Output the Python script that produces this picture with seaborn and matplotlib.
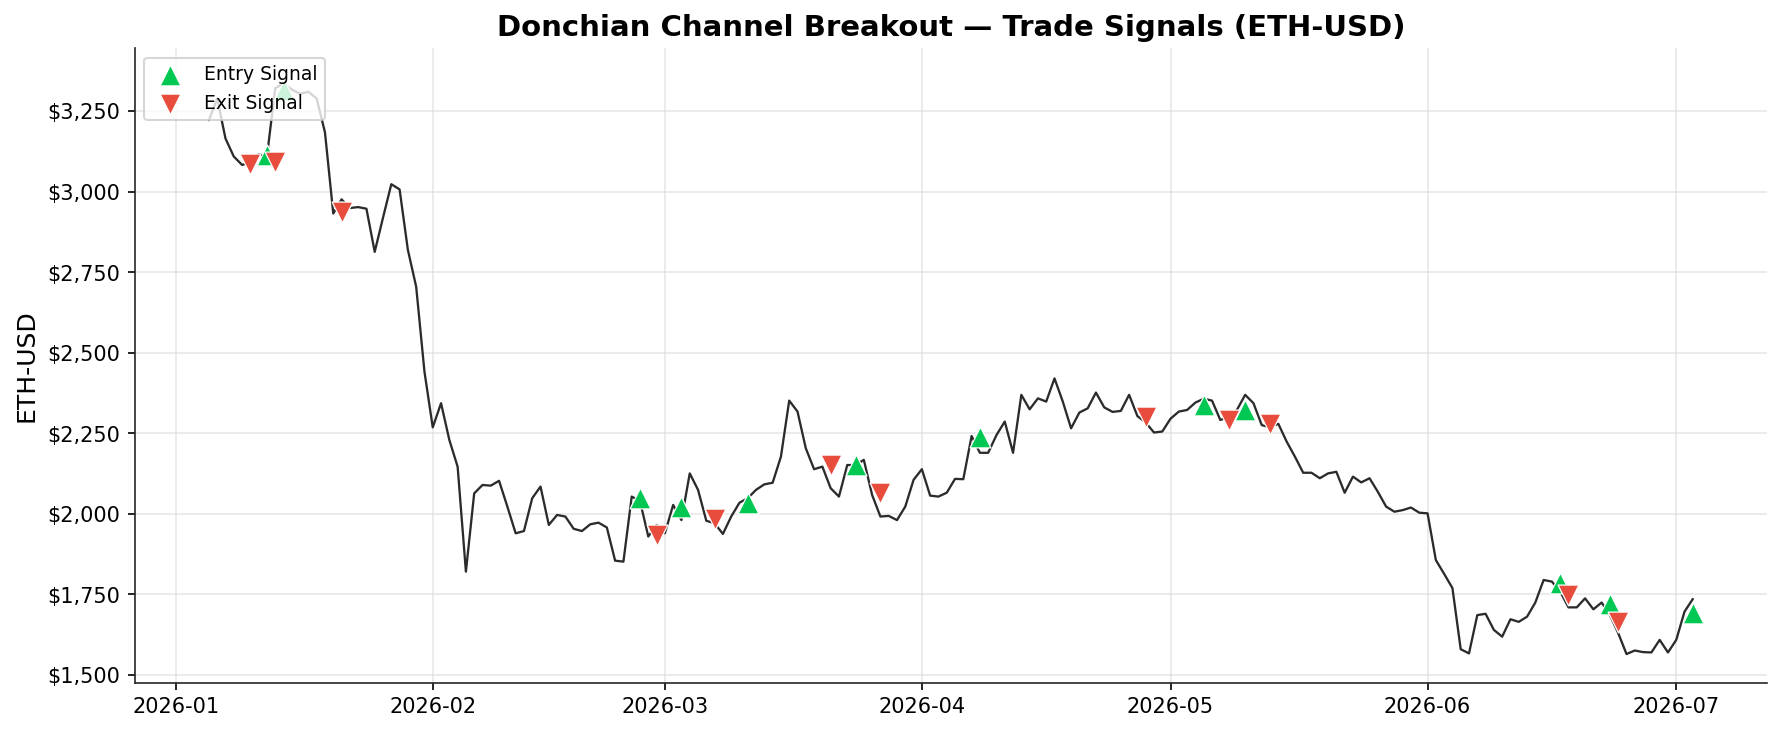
import numpy as np
import pandas as pd
import matplotlib
matplotlib.use("Agg")
import matplotlib.pyplot as plt
import matplotlib.dates as mdates
import matplotlib.ticker as mticker
import seaborn as sns

# ---- data ----
start_date = "2026-01-05"
prices = [
    3223, 3290, 3166, 3110, 3084, 3091, 3117, 3110, 3322, 3337,
    3318, 3305, 3311, 3290, 3185, 2933, 2977, 2950, 2953, 2948,
    2814, 2920, 3024, 3008, 2820, 2706, 2442, 2269, 2344, 2230,
    2147, 1821, 2064, 2090, 2088, 2103, 2023, 1940, 1947, 2049,
    2085, 1966, 1997, 1992, 1954, 1947, 1968, 1973, 1958, 1855,
    1852, 2054, 2040, 1930, 1966, 1940, 2028, 1981, 2126, 2075,
    1979, 1971, 1938, 1992, 2035, 2049, 2075, 2092, 2097, 2178,
    2352, 2318, 2204, 2139, 2147, 2080, 2054, 2152, 2152, 2168,
    2059, 1992, 1994, 1981, 2023, 2106, 2139, 2057, 2054, 2066,
    2109, 2108, 2242, 2190, 2190, 2245, 2287, 2190, 2370, 2325,
    2359, 2349, 2421, 2349, 2266, 2315, 2328, 2377, 2331, 2317,
    2320, 2370, 2304, 2284, 2253, 2256, 2296, 2318, 2323, 2346,
    2358, 2352, 2292, 2300, 2323, 2370, 2344, 2276, 2269, 2280,
    2225, 2178, 2128, 2128, 2111, 2126, 2131, 2066, 2116, 2098,
    2111, 2069, 2023, 2007, 2012, 2020, 2004, 2002, 1857, 1814,
    1770, 1580, 1567, 1686, 1690, 1640, 1619, 1673, 1665, 1681,
    1725, 1795, 1790, 1759, 1710, 1710, 1738, 1704, 1725, 1686,
    1630, 1565, 1576, 1571, 1570, 1609, 1570, 1609, 1697, 1736,
]

entry_dates = ["2026-01-12", "2026-01-14", "2026-02-26", "2026-03-03",
               "2026-03-11", "2026-03-24", "2026-04-08", "2026-05-05",
               "2026-05-10", "2026-06-17", "2026-06-23", "2026-07-03"]
entry_prices = [3115, 3316, 2049, 2023, 2033, 2152, 2238, 2338, 2323,
                1785, 1721, 1692]

exit_dates = ["2026-01-10", "2026-01-13", "2026-01-21", "2026-02-28",
              "2026-03-07", "2026-03-21", "2026-03-27", "2026-04-28",
              "2026-05-08", "2026-05-13", "2026-06-18", "2026-06-24"]
exit_prices = [3087, 3094, 2939, 1935, 1983, 2152, 2064, 2302, 2292,
               2280, 1749, 1666]

title = "Donchian Channel Breakout \u2014 Trade Signals (ETH-USD)"
ylabel = "ETH-USD"
y_limits = (1476, 3446)

# ---- frames ----
price_df = pd.DataFrame({
    "date": pd.date_range(start_date, periods=len(prices), freq="D"),
    "price": prices,
})
entry_df = pd.DataFrame({"date": pd.to_datetime(entry_dates), "price": entry_prices})
exit_df = pd.DataFrame({"date": pd.to_datetime(exit_dates), "price": exit_prices})

# ---- style ----
sns.set_style("ticks")
plt.rcParams["font.family"] = ["DejaVu Sans"]
plt.rcParams["text.color"] = "black"
plt.rcParams["axes.labelcolor"] = "black"
plt.rcParams["xtick.color"] = "black"
plt.rcParams["ytick.color"] = "black"

fig = plt.figure(figsize=(11.88, 4.887), dpi=150)
ax = fig.add_axes([0.0756, 0.0686, 0.916, 0.8654])

sns.lineplot(data=price_df, x="date", y="price", ax=ax, color="#2b2b2b",
             linewidth=1.1, zorder=2)
sns.scatterplot(data=entry_df, x="date", y="price", ax=ax, marker="^",
                s=100, color="#00c853", edgecolor="white", linewidth=0.6,
                label="Entry Signal", zorder=3)
sns.scatterplot(data=exit_df, x="date", y="price", ax=ax, marker="v",
                s=100, color="#e74c3c", edgecolor="white", linewidth=0.6,
                label="Exit Signal", zorder=3)

ax.set_ylim(*y_limits)
ax.set_title(title, fontsize=14, fontweight="bold", pad=6, color="black")
ax.set_xlabel("")
ax.set_ylabel(ylabel, fontsize=12)

ax.xaxis.set_major_locator(mdates.MonthLocator())
ax.xaxis.set_major_formatter(mdates.DateFormatter("%Y-%m"))
ax.yaxis.set_major_locator(mticker.MultipleLocator(250))
ax.yaxis.set_major_formatter(mticker.StrMethodFormatter("${x:,.0f}"))
ax.tick_params(axis="both", labelsize=10)

ax.grid(True, color="#dddddd", linewidth=0.8, alpha=0.7)
ax.set_axisbelow(True)
sns.despine(ax=ax)

leg = ax.legend(loc="upper left", fontsize=9, framealpha=0.8,
                edgecolor="#cccccc")

fig.savefig("out.png", dpi=150)
